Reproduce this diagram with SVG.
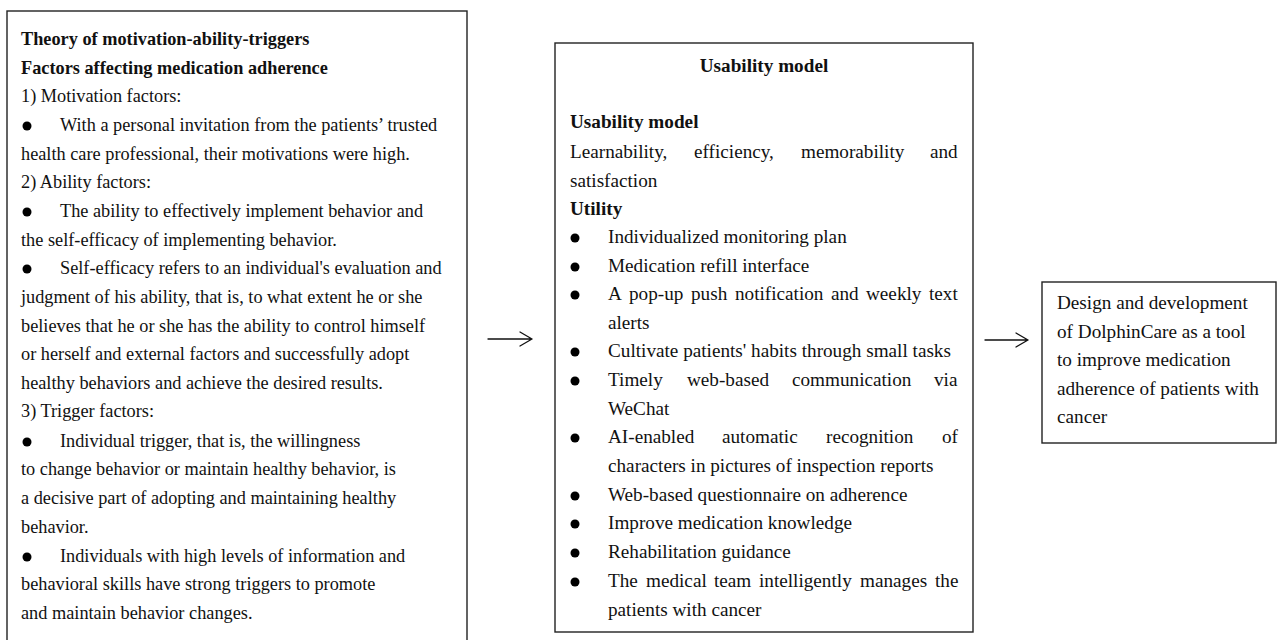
<svg xmlns="http://www.w3.org/2000/svg" width="1277" height="640" viewBox="0 0 1277 640">
  <style>
    .box { fill: #ffffff; stroke: #222222; stroke-width: 1.4; }
    text { font-family: "Liberation Serif", "Times New Roman", serif; font-size: 18.3px; fill: #111111; }
    .lg text { font-size: 19.2px; }
    .b { font-weight: bold; }
    .dot { fill: #000000; }
    .conn { fill: none; stroke: #111111; stroke-width: 1.3; stroke-linecap: round; stroke-linejoin: round; }
  </style>
  <rect x="0" y="0" width="1277" height="640" fill="#ffffff"/>

  <!-- Theory of motivation-ability-triggers -->
  <g id="node-theory">
    <rect class="box" x="7" y="11" width="460" height="640"/>
    <text class="b" x="21" y="45">Theory of motivation-ability-triggers</text>
    <text class="b" x="21" y="74">Factors affecting medication adherence</text>
    <text x="21" y="102">1) Motivation factors:</text>
    <circle class="dot" cx="27" cy="126" r="4.5"/>
    <text x="60" y="131">With a personal invitation from the patients’ trusted</text>
    <text x="21" y="160">health care professional, their motivations were high.</text>
    <text x="21" y="188">2) Ability factors:</text>
    <circle class="dot" cx="27" cy="212" r="4.5"/>
    <text x="60" y="217">The ability to effectively implement behavior and</text>
    <text x="21" y="246">the self-efficacy of implementing behavior.</text>
    <circle class="dot" cx="27" cy="269" r="4.5"/>
    <text x="60" y="274">Self-efficacy refers to an individual's evaluation and</text>
    <text x="21" y="303">judgment of his ability, that is, to what extent he or she</text>
    <text x="21" y="332">believes that he or she has the ability to control himself</text>
    <text x="21" y="360">or herself and external factors and successfully adopt</text>
    <text x="21" y="389">healthy behaviors and achieve the desired results.</text>
    <text x="21" y="417">3) Trigger factors:</text>
    <circle class="dot" cx="27" cy="442" r="4.5"/>
    <text x="60" y="447">Individual trigger, that is, the willingness</text>
    <text x="21" y="475">to change behavior or maintain healthy behavior, is</text>
    <text x="21" y="504">a decisive part of adopting and maintaining healthy</text>
    <text x="21" y="533">behavior.</text>
    <circle class="dot" cx="27" cy="557" r="4.5"/>
    <text x="60" y="562">Individuals with high levels of information and</text>
    <text x="21" y="590">behavioral skills have strong triggers to promote</text>
    <text x="21" y="619">and maintain behavior changes.</text>
  </g>

  <!-- Usability model (justified lines set word by word) -->
  <g id="node-usability" class="lg">
    <rect class="box" x="555" y="43" width="418" height="589"/>
    <text class="b" x="764" y="72" text-anchor="middle">Usability model</text>
    <text class="b" x="570" y="128">Usability model</text>
    <text y="158"><tspan x="570">Learnability,</tspan><tspan x="694">efficiency,</tspan><tspan x="801">memorability</tspan><tspan x="930">and</tspan></text>
    <text x="570" y="187">satisfaction</text>
    <text class="b" x="570" y="215">Utility</text>
    <circle class="dot" cx="575" cy="238" r="4.5"/>
    <text x="608" y="243">Individualized monitoring plan</text>
    <circle class="dot" cx="575" cy="267" r="4.5"/>
    <text x="608" y="272">Medication refill interface</text>
    <circle class="dot" cx="575" cy="295" r="4.5"/>
    <text y="300"><tspan x="608">A</tspan><tspan x="629">pop-up</tspan><tspan x="691">push</tspan><tspan x="735">notification</tspan><tspan x="831">and</tspan><tspan x="866">weekly</tspan><tspan x="929">text</tspan></text>
    <text x="608" y="329">alerts</text>
    <circle class="dot" cx="575" cy="352" r="4.5"/>
    <text x="608" y="357">Cultivate patients' habits through small tasks</text>
    <circle class="dot" cx="575" cy="381" r="4.5"/>
    <text y="386"><tspan x="608">Timely</tspan><tspan x="687">web-based</tspan><tspan x="792">communication</tspan><tspan x="934">via</tspan></text>
    <text x="608" y="415">WeChat</text>
    <circle class="dot" cx="575" cy="438" r="4.5"/>
    <text y="443"><tspan x="608">AI-enabled</tspan><tspan x="722">automatic</tspan><tspan x="826">recognition</tspan><tspan x="942">of</tspan></text>
    <text x="608" y="472">characters in pictures of inspection reports</text>
    <circle class="dot" cx="575" cy="496" r="4.5"/>
    <text x="608" y="501">Web-based questionnaire on adherence</text>
    <circle class="dot" cx="575" cy="524" r="4.5"/>
    <text x="608" y="529">Improve medication knowledge</text>
    <circle class="dot" cx="575" cy="553" r="4.5"/>
    <text x="608" y="558">Rehabilitation guidance</text>
    <circle class="dot" cx="575" cy="582" r="4.5"/>
    <text y="587"><tspan x="608">The</tspan><tspan x="646">medical</tspan><tspan x="714">team</tspan><tspan x="759">intelligently</tspan><tspan x="860">manages</tspan><tspan x="935">the</tspan></text>
    <text x="608" y="616">patients with cancer</text>
  </g>

  <!-- DolphinCare outcome -->
  <g id="node-dolphincare" class="lg">
    <rect class="box" x="1042" y="282" width="234" height="161"/>
    <text x="1057" y="309">Design and development</text>
    <text x="1057" y="338">of DolphinCare as a tool</text>
    <text x="1057" y="366">to improve medication</text>
    <text x="1057" y="395">adherence of patients with</text>
    <text x="1057" y="423">cancer</text>
  </g>

  <!-- connectors -->
  <g id="connectors">
    <path class="conn" d="M488 339 H532 M520 332 L532 339 L520 346"/>
    <path class="conn" d="M985 340 H1028 M1016 333 L1028 340 L1016 347"/>
  </g>
</svg>
